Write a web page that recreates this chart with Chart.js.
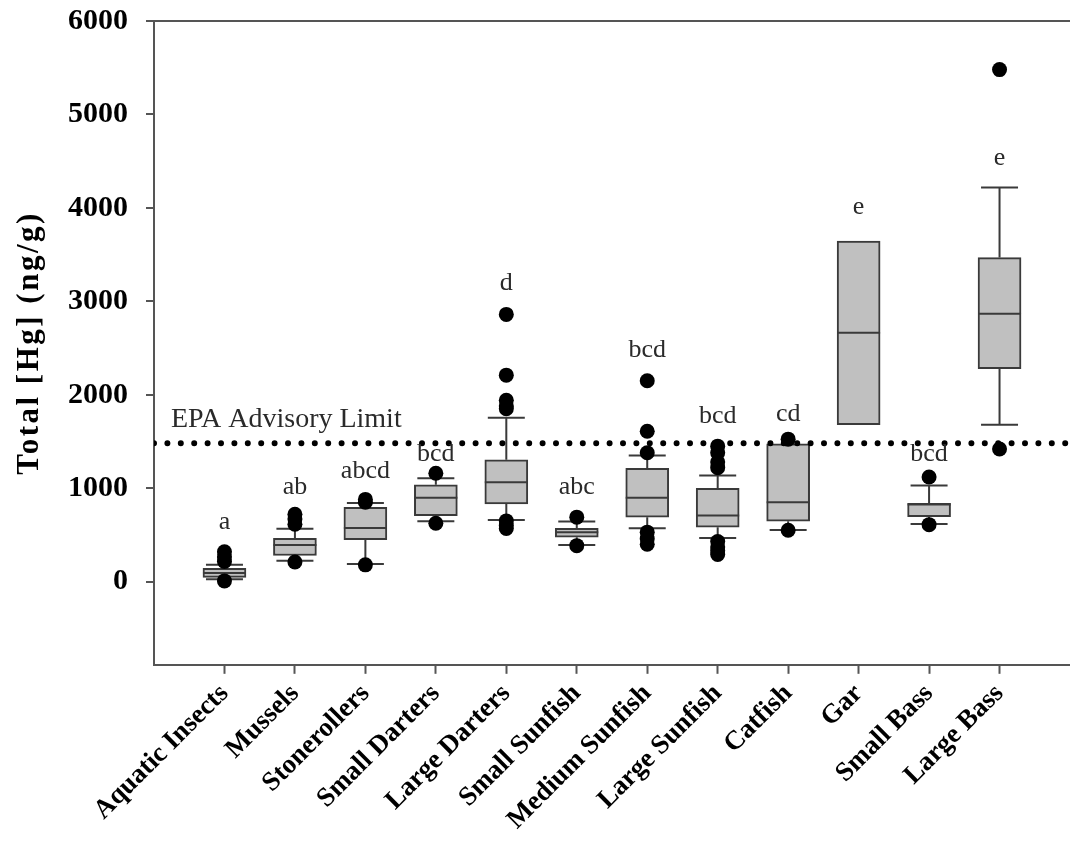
<!DOCTYPE html>
<html>
<head>
<meta charset="utf-8">
<script src="https://cdn.jsdelivr.net/npm/chart.js@4.4.1/dist/chart.umd.min.js"></script>
<style>
  html, body { margin: 0; padding: 0; background: #fff; }
  #wrap { width: 1070px; height: 850px; }
</style>
</head>
<body>
<div id="wrap"><canvas id="myChart" width="1070" height="850"></canvas></div>
<script>
// groups on the x axis
var categories = ['Aquatic Insects', 'Mussels', 'Stonerollers', 'Small Darters', 'Large Darters',
    'Small Sunfish', 'Medium Sunfish', 'Large Sunfish', 'Catfish', 'Gar', 'Small Bass', 'Large Bass'];

// box plot values (ng/g)
var q1        = [46, 280, 450, 707, 832, 475, 689, 582, 646, 1679, 696, 2279];
var medians   = [93, 393, 575, 897, 1064, 529, 897, 707, 850, 2665, 825, 2868];
var q3        = [143, 464, 796, 1036, 1304, 571, 1214, 1000, 1475, 3646, 839, 3468];
var whiskerLo = [25, 225, 190, 646, 661, 393, 571, 468, 554, null, 618, 1679];
var whiskerHi = [182, 565, 843, 1107, 1754, 643, 1350, 1136, null, null, 1029, 4218];
var outliers  = [
    [320, 265, 215, 8],
    [720, 670, 615, 210],
    [880, 850, 180],
    [1160, 625],
    [2860, 2210, 1940, 1880, 1850, 650, 600, 570],
    [690, 385],
    [2150, 1610, 1380, 530, 460, 400],
    [1450, 1380, 1280, 1220, 430, 370, 330, 290],
    [1525, 550],
    [],
    [1120, 610],
    [5480, 1420]
];

// significance letters and the value they sit at
var letters = ['a', 'ab', 'abcd', 'bcd', 'd', 'abc', 'bcd', 'bcd', 'cd', 'e', 'bcd', 'e'];
var letterY = [635, 1010, 1182, 1361, 3193, 1010, 2482, 1768, 1797, 4007, 1368, 4532];

// y axis
var yTicks = [0, 1000, 2000, 3000, 4000, 5000, 6000];
var epaLimit = 1480;
var epaLabel = 'EPA Advisory Limit';

var serif = "'Liberation Serif', 'Times New Roman', serif";

// boxes as floating bars
var boxData = [];
for (i = 0; i < categories.length; i++) {
    boxData.push({x: i + 1, y: [q1[i], q3[i]]});
}
// outlier points
var outlierData = [];
for (i = 0; i < outliers.length; i++) {
    for (j = 0; j < outliers[i].length; j++) {
        outlierData.push({x: i + 1, y: outliers[i][j]});
    }
}

var boxExtras = {
    id: 'boxExtras',
    beforeDatasetsDraw: function(chart) {
        // whiskers and caps
        var ctx = chart.ctx, xs = chart.scales.x, ys = chart.scales.y;
        ctx.save();
        ctx.strokeStyle = '#3a3a3a';
        ctx.lineWidth = 2;
        for (i = 0; i < categories.length; i++) {
            var px = xs.getPixelForValue(i + 1);
            var pairs = [[q3[i], whiskerHi[i]], [q1[i], whiskerLo[i]]];
            pairs.forEach(function(p) {
                if (p[1] === null) return;
                var a = ys.getPixelForValue(p[0]), b = ys.getPixelForValue(p[1]);
                ctx.beginPath();
                ctx.moveTo(px, a);
                ctx.lineTo(px, b);
                ctx.moveTo(px - 18.5, b);
                ctx.lineTo(px + 18.5, b);
                ctx.stroke();
            });
        }
        ctx.restore();
    },
    afterDatasetDraw: function(chart, args) {
        if (args.index !== 0) return;
        // median lines
        var ctx = chart.ctx, xs = chart.scales.x, ys = chart.scales.y;
        ctx.save();
        ctx.strokeStyle = '#3a3a3a';
        ctx.lineWidth = 2;
        for (i = 0; i < categories.length; i++) {
            var px = xs.getPixelForValue(i + 1);
            var py = ys.getPixelForValue(medians[i]);
            ctx.beginPath();
            ctx.moveTo(px - 21.5, py);
            ctx.lineTo(px + 21.5, py);
            ctx.stroke();
        }
        ctx.restore();
    },
    afterDraw: function(chart) {
        var ctx = chart.ctx, xs = chart.scales.x, ys = chart.scales.y, area = chart.chartArea;
        ctx.save();
        // letters
        ctx.fillStyle = '#2a2a2a';
        ctx.font = '26px ' + serif;
        ctx.textAlign = 'center';
        ctx.textBaseline = 'middle';
        for (i = 0; i < letters.length; i++) {
            ctx.fillText(letters[i], xs.getPixelForValue(i + 1), ys.getPixelForValue(letterY[i]));
        }
        // EPA label
        ctx.font = '28px ' + serif;
        ctx.textAlign = 'left';
        ctx.textBaseline = 'alphabetic';
        ctx.fillText(epaLabel, xs.getPixelForValue(0.24), ys.getPixelForValue(1650));
        // y title
        ctx.fillStyle = '#000';
        ctx.font = 'bold 31px ' + serif;
        ctx.letterSpacing = '2.5px';
        ctx.textAlign = 'center';
        ctx.textBaseline = 'middle';
        ctx.translate(30, (area.top + area.bottom) / 2);
        ctx.rotate(-Math.PI / 2);
        ctx.fillText('Total [Hg] (ng/g)', 0, 0);
        ctx.restore();
    }
};

const canvas = document.getElementById('myChart');
const chart = new Chart(canvas, {
    type: 'bar',
    data: {
        datasets: [{
            type: 'bar',
            data: boxData,
            backgroundColor: '#c0c0c0',
            borderColor: '#3a3a3a',
            borderWidth: 2,
            borderSkipped: false,
            barThickness: 43,
            grouped: false,
            order: 3
        }, {
            type: 'scatter',
            data: outlierData,
            backgroundColor: '#000',
            borderWidth: 0,
            pointRadius: 7.5,
            order: 2
        }, {
            type: 'line',
            data: [{x: 0, y: epaLimit}, {x: 13, y: epaLimit}],
            borderColor: '#000',
            borderWidth: 6,
            borderDash: [0, 13.4],
            borderCapStyle: 'round',
            pointRadius: 0,
            fill: false,
            order: 1
        }]
    },
    options: {
        responsive: false,
        animation: false,
        layout: {autoPadding: false, padding: {left: 50, top: 21, right: 0, bottom: 10}},
        plugins: {
            legend: {display: false},
            tooltip: {enabled: false}
        },
        scales: {
            x: {
                type: 'linear',
                min: 0,
                max: 13,
                offset: false,
                afterBuildTicks: function(axis) {
                    axis.ticks = categories.map(function(c, i) { return {value: i + 1}; });
                },
                afterFit: function(axis) {
                    axis.paddingLeft = 0;
                    axis.paddingRight = 0;
                },
                ticks: {
                    autoSkip: false,
                    maxRotation: 45,
                    minRotation: 45,
                    padding: 4,
                    color: '#000',
                    font: {family: serif, size: 27, weight: 'bold'},
                    callback: function(v) { return categories[v - 1]; }
                },
                grid: {offset: false, drawOnChartArea: false, tickLength: 9, tickColor: '#555', tickWidth: 2},
                border: {color: '#555', width: 2}
            },
            y: {
                min: -890,
                max: 6000,
                afterBuildTicks: function(axis) {
                    axis.ticks = yTicks.map(function(v) { return {value: v}; });
                },
                afterFit: function(axis) {
                    axis.paddingTop = 0;
                    axis.paddingBottom = 0;
                },
                ticks: {
                    padding: 18,
                    color: '#000',
                    font: {family: serif, size: 30, weight: 'bold'},
                    callback: function(v) { return String(v); }
                },
                grid: {
                    color: function(c) { return c.tick && c.tick.value === 6000 ? '#555' : 'rgba(0,0,0,0)'; },
                    lineWidth: 2,
                    tickLength: 8,
                    tickColor: '#555',
                    tickWidth: 2
                },
                border: {color: '#555', width: 2}
            }
        }
    },
    plugins: [boxExtras]
});
</script>
</body>
</html>
